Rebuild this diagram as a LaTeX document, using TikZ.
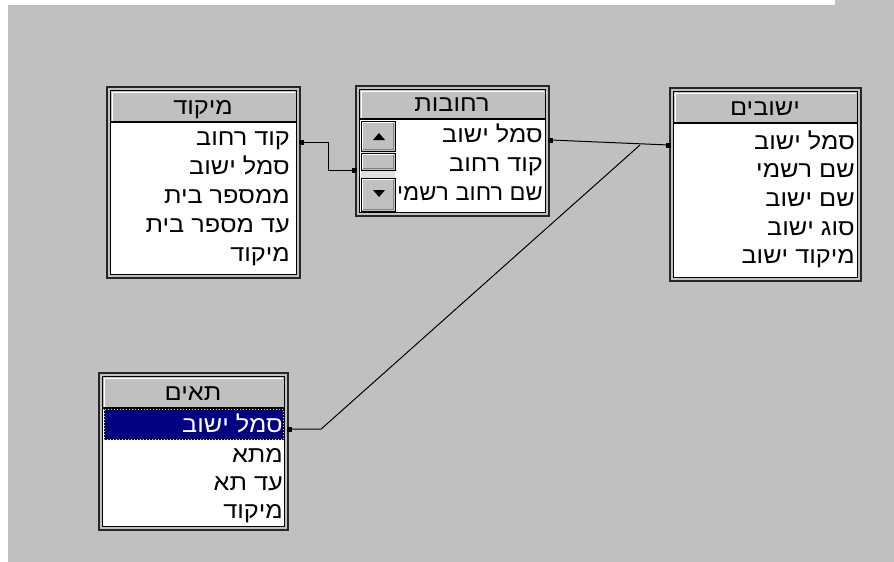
\documentclass[tikz,border=0pt]{standalone}
\usepackage{fontspec}
\newfontfamily\hebfont[Script=Hebrew,FakeStretch=1.1]{Liberation Sans}
\TeXXeTstate=1
\usetikzlibrary{fit}
\definecolor{wingray}{HTML}{C0C0C0}
\definecolor{selnavy}{HTML}{000080}
\definecolor{winshadow}{HTML}{808080}
\definecolor{trackgray}{HTML}{E0E0E0}
\newcommand\hx[1]{{\hebfont\fontsize{23}{24}\selectfont\beginR #1\endR}}
% table frame: name, left, top, right, bottom, header bottom
\newcommand\ertable[6]{%
  \fill[wingray] (#2,#3) rectangle (#4,#5);
  \draw[framedark, line width=2pt] (#2+1,#3+1) rectangle (#4-1,#5-1);
  \fill[white] (#2+5,#6) rectangle (#4-5,#5-5);
  \draw[black, line width=1.2pt] (#2+4.6,#3+4.6) rectangle (#4-4.6,#5-4.6);
  \draw[white, line width=1.5pt] (#2+6.3,#6-1.5) -- (#2+6.3,#3+6.3) -- (#4-6.3,#3+6.3);
  \draw[black, line width=1.2pt] (#2+5,#6) -- (#4-5,#6);
  \node[inner sep=0pt, fit={(#2,#3) (#4,#5)}] (#1) {};
}
% 3D button: left, top, right, bottom
\newcommand\winbtn[4]{%
  \fill[wingray] (#1,#2) rectangle (#3,#4);
  \draw[winshadow, line width=1.2pt] (#1+1.5,#4-1.5) -- (#3-1.5,#4-1.5) -- (#3-1.5,#2+1.5);
  \draw[white, line width=1.2pt] (#1+1.5,#4-1.5) -- (#1+1.5,#2+1.5) -- (#3-1.5,#2+1.5);
  \draw[black, line width=1pt] (#1,#2) rectangle (#3,#4);
}
\tikzset{
  framedark/.style={draw=black!85},
  rowtxt/.style={anchor=base east, inner sep=0pt, text=black},
  headtxt/.style={anchor=base, inner sep=0pt, text=black},
  conn/.style={draw=black, line width=1pt},
  endsq/.style={fill=black, minimum size=5pt, inner sep=0pt},
}
\begin{document}
\begin{tikzpicture}[x=1pt,y=-1pt]
\useasboundingbox (0,0) rectangle (894,562);
\fill[white] (0,0) rectangle (894,562);
\fill[wingray] (8,5) rectangle (894,562);
\fill[wingray] (835,0) rectangle (894,5);

% ---- table 1
\ertable{miqud}{106}{86}{301}{279}{122}
\node[headtxt] (miqudh) at (203,114.5) {\hx{מיקוד}};
\node[rowtxt] (m1) at (290,145.5) {\hx{קוד רחוב}};
\node[rowtxt] (m2) at (290,174) {\hx{סמל ישוב}};
\node[rowtxt] (m3) at (290,203) {\hx{ממספר בית}};
\node[rowtxt] (m4) at (290,232) {\hx{עד מספר בית}};
\node[rowtxt] (m5) at (290,261) {\hx{מיקוד}};

% ---- table 2
\ertable{rehovot}{355}{85}{550}{217}{119}
\node[headtxt] (rehovoth) at (452,111.5) {\hx{רחובות}};
\node[rowtxt] (r1) at (543,142.5) {\hx{סמל ישוב}};
\node[rowtxt] (r2) at (543,171.5) {\hx{קוד רחוב}};
\node[rowtxt] (r3) at (543,200.5) {\scalebox{0.93}[1]{\hx{שם רחוב רשמי}}};
% scrollbar
\fill[trackgray] (361,151) rectangle (395,178);
\winbtn{361}{121}{395}{151}
\winbtn{361}{153}{395}{170}
\winbtn{361}{178}{395}{211}
\fill[black] (373,140) -- (385,140) -- (379,133) -- cycle;
\fill[black] (373,190) -- (385,190) -- (379,197) -- cycle;

% ---- table 3
\ertable{yeshuvim}{669}{87}{862}{282}{123}
\node[headtxt] (yeshuvimh) at (765,115.5) {\hx{ישובים}};
\node[rowtxt] (y1) at (855,149.5) {\hx{סמל ישוב}};
\node[rowtxt] (y2) at (855,177.5) {\hx{שם רשמי}};
\node[rowtxt] (y3) at (855,206) {\hx{שם ישוב}};
\node[rowtxt] (y4) at (855,235) {\hx{סוג ישוב}};
\node[rowtxt] (y5) at (855,263) {\hx{מיקוד ישוב}};

% ---- table 4
\ertable{taim}{98}{372}{289}{531}{408}
\node[headtxt] (taimh) at (193,400.5) {\hx{תאים}};
\fill[selnavy] (103.5,409) rectangle (284,440);
\draw[yellow, line width=1pt, dotted] (104,409.5) rectangle (283.5,439.5);
\node[rowtxt, text=white] (t1) at (283,432) {\hx{סמל ישוב}};
\node[rowtxt] (t2) at (283,462) {\hx{מתא}};
\node[rowtxt] (t3) at (283,490) {\hx{עד תא}};
\node[rowtxt] (t4) at (283,518) {\hx{מיקוד}};

% ---- connectors
\coordinate (c1a) at (miqud.east |- 0,142);
\coordinate (c1b) at (rehovot.west |- 0,170);
\draw[conn] (c1a) -- ++(27,0) |- (c1b);
\node[endsq] at (c1a) {};
\node[endsq] at (c1b) {};

\coordinate (c2a) at (rehovot.east |- 0,140);
\coordinate (c2b) at (yeshuvim.west |- 0,145);
\coordinate (join) at (640,145);
\draw[conn] (c2a) -- (c2b);
\node[endsq] at (c2a) {};
\node[endsq] at (c2b) {};

\coordinate (c3a) at (taim.east |- 0,429);
\draw[conn] (c3a) -- ++(32,0) -- (join);
\node[endsq] at (c3a) {};
\end{tikzpicture}
\end{document}
